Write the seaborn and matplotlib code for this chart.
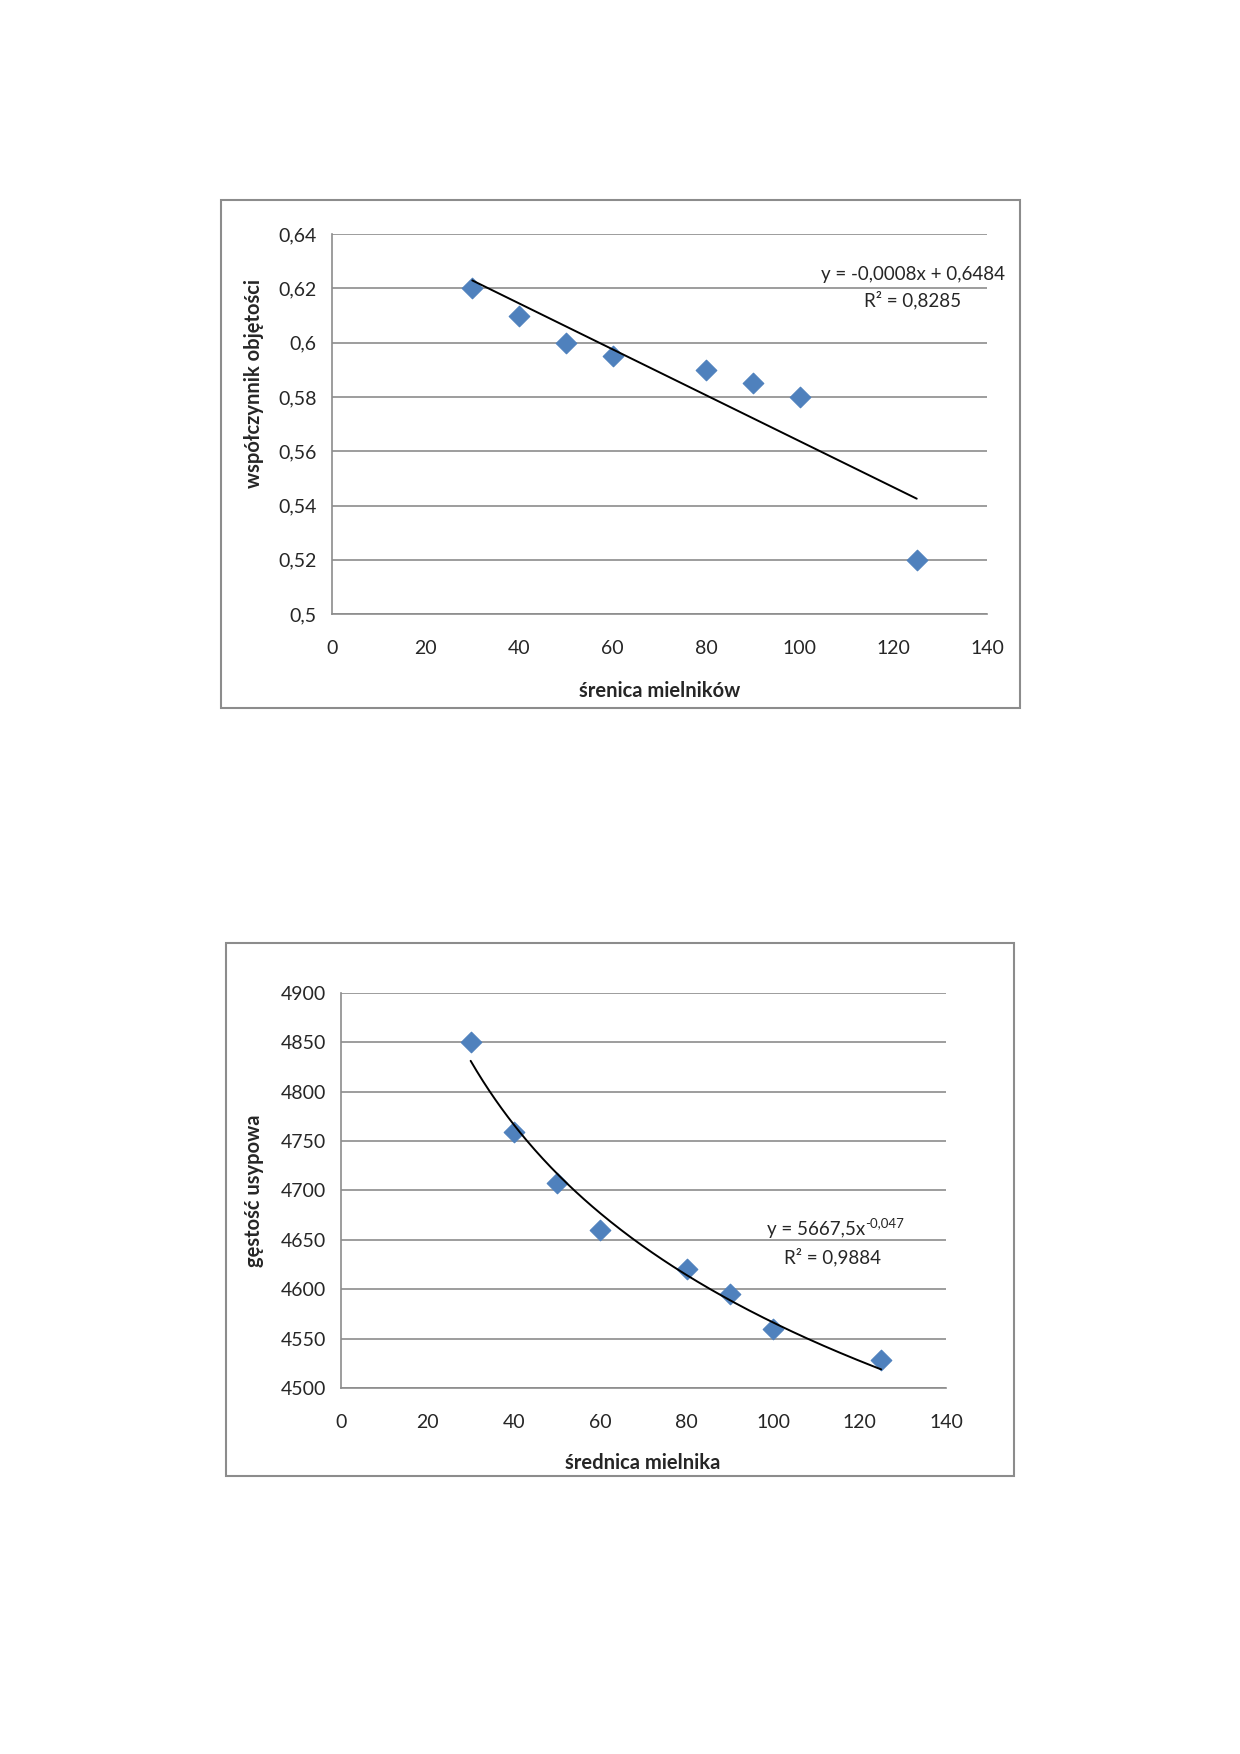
import numpy as np
import matplotlib
matplotlib.use("Agg")
import matplotlib.pyplot as plt
import seaborn as sns
from matplotlib.patches import Rectangle

# dane - wykres 1
srednica = [30, 40, 50, 60, 80, 90, 100, 125]
wsp_obj = [0.62, 0.61, 0.60, 0.595, 0.59, 0.585, 0.58, 0.52]
yticks_1 = [0.5, 0.52, 0.54, 0.56, 0.58, 0.6, 0.62, 0.64]
ylabels_1 = ["0,5", "0,52", "0,54", "0,56", "0,58", "0,6", "0,62", "0,64"]

# dane - wykres 2
srednica_2 = [30, 40, 50, 60, 80, 90, 100, 125]
gestosc = [4850, 4759, 4708, 4660, 4620, 4595, 4560, 4528]
yticks_2 = [4500, 4550, 4600, 4650, 4700, 4750, 4800, 4850, 4900]

xticks = [0, 20, 40, 60, 80, 100, 120, 140]

sns.set_style("white")
plt.rcParams['font.family'] = ['Lato', 'DejaVu Sans']

blue = "#4F81BD"
grid_c = "#8C8C8C"

fig = plt.figure(figsize=(12.4, 17.54), dpi=100)

# ramki wykresow
for (l, b, w, h) in [(0.1782, 0.5964, 0.6444, 0.2896), (0.1823, 0.1585, 0.6355, 0.3039)]:
    fig.patches.append(Rectangle((l, b), w, h, transform=fig.transFigure,
                                 fill=False, edgecolor="#8C8C8C", linewidth=1.5))


def style_axes(ax, yticks, ylabels):
    ax.set_xlim(0, 140)
    ax.set_xticks(xticks)
    ax.set_yticks(yticks)
    ax.set_yticklabels(ylabels)
    ax.set_ylim(yticks[0], yticks[-1])
    for s in ["top", "right"]:
        ax.spines[s].set_visible(False)
    for s in ["left", "bottom"]:
        ax.spines[s].set_color(grid_c)
        ax.spines[s].set_linewidth(1.2)
    ax.yaxis.grid(True, color=grid_c, linewidth=1.2)
    ax.set_axisbelow(True)
    ax.tick_params(axis="both", direction="out", length=5, width=1.2,
                   color=grid_c, labelsize=14, pad=6)
    ax.tick_params(axis="x", pad=14)


# wykres 1
ax1 = fig.add_axes([0.2677, 0.6499, 0.5282, 0.2166])
sns.scatterplot(x=srednica, y=wsp_obj, marker="D", s=110, color=blue,
                edgecolor=blue, ax=ax1, zorder=3)
a, b = np.polyfit(srednica, wsp_obj, 1)
xl = np.array([min(srednica), max(srednica)])
ax1.plot(xl, a * xl + b, color="black", linewidth=1.4, zorder=4)
style_axes(ax1, yticks_1, ylabels_1)
ax1.set_xlabel("śrenica mielników", fontsize=14.5, fontweight="bold")
ax1.set_ylabel("współczynnik objętości", fontsize=14.5, fontweight="bold")
ax1.xaxis.set_label_coords(0.50, -0.177)
ax1.yaxis.set_label_coords(-0.104, 0.608)
ax1.text(0.887, 0.895, "y = -0,0008x + 0,6484", transform=ax1.transAxes,
         ha="center", va="center", fontsize=13.5)
ax1.text(0.887, 0.826, "R² = 0,8285", transform=ax1.transAxes,
         ha="center", va="center", fontsize=13.5)

# wykres 2
ax2 = fig.add_axes([0.275, 0.2087, 0.4879, 0.2252])
sns.scatterplot(x=srednica_2, y=gestosc, marker="D", s=110, color=blue,
                edgecolor=blue, ax=ax2, zorder=3)
k, lnc = np.polyfit(np.log(srednica_2), np.log(gestosc), 1)
xc = np.linspace(min(srednica_2), max(srednica_2), 200)
ax2.plot(xc, np.exp(lnc) * xc ** k, color="black", linewidth=1.4, zorder=4)
style_axes(ax2, yticks_2, [str(t) for t in yticks_2])
ax2.set_xlabel("średnica mielnika", fontsize=14.5, fontweight="bold")
ax2.set_ylabel("gęstość usypowa", fontsize=14.5, fontweight="bold")
ax2.xaxis.set_label_coords(0.499, -0.165)
ax2.yaxis.set_label_coords(-0.127, 0.499)
eq = ax2.text(0.785, 0.40, "y = 5667,5x", transform=ax2.transAxes,
              ha="center", va="center", fontsize=13.5)
ax2.annotate("-0,047", xy=(1.0, 0.55), xycoords=eq, ha="left", va="bottom",
             fontsize=9.5)
ax2.text(0.812, 0.332, "R² = 0,9884", transform=ax2.transAxes,
         ha="center", va="center", fontsize=13.5)

fig.savefig("out.png", dpi=100)
